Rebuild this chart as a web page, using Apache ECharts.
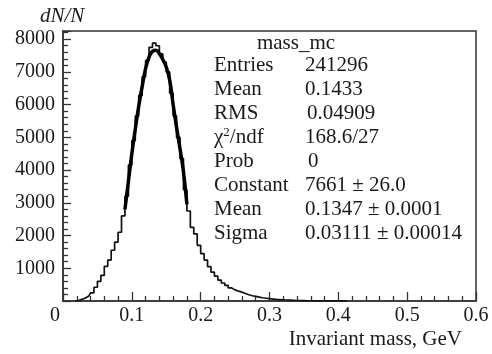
<!DOCTYPE html>
<html>
<head>
<meta charset="utf-8">
<script src="https://cdn.jsdelivr.net/npm/echarts@6/dist/echarts.min.js"></script>
<style>
  html, body { margin: 0; padding: 0; background: #fff; }
  #chart { width: 492px; height: 354px; }
</style>
</head>
<body>
<div id="chart"></div>
<script>
  // histogram mass_mc : bins of 0.005 GeV, first bin starts at 0.020
  var binStart = 0.02
  var binWidth = 0.005
  var counts = [
    15, 50, 90, 150, 250, 420, 600, 780, 1060, 1250,
    1550, 1800, 2100, 2600, 3200, 4150, 4900, 5650, 6280, 6850,
    7350, 7750, 7880, 7800, 7550, 7300, 7000, 6350, 5650, 5000,
    4350, 3400, 2750, 2250, 2050, 1700, 1450, 1250, 1050, 880,
    760, 640, 550, 480, 400, 340, 300, 270, 230, 190,
    160, 140, 120, 100, 85, 70, 60, 50, 45, 38,
    30, 25, 20, 15, 12, 10, 8, 7, 6, 5,
    4, 3, 3, 2, 2, 1, 1, 1
  ]
  // gaus fit curve
  var fitX = [0.090, 0.095, 0.100, 0.105, 0.110, 0.115, 0.120, 0.125, 0.130, 0.135,
              0.140, 0.145, 0.150, 0.155, 0.160, 0.165, 0.170, 0.175, 0.180]
  var fitY = [2800, 3650, 4500, 5250, 5950, 6550, 7100, 7450, 7630, 7660,
              7560, 7380, 7150, 6750, 6000, 5300, 4650, 3950, 2950]

  var statTitle = 'mass_mc'
  var statNames = ['Entries', 'Mean', 'RMS', 'χ{sup|2}/ndf', 'Prob', 'Constant', 'Mean', 'Sigma']
  var statValues = ['241296', '0.1433', '0.04909', '168.6/27', '0', '7661 ± 26.0', '0.1347 ± 0.0001', '0.03111 ± 0.00014']

  var font = '"Liberation Serif", "DejaVu Serif", serif'
  var ink = '#1a1a1a'

  var chart = echarts.init(document.getElementById('chart'))

  var histData = [[binStart - binWidth / 2, 0]]
  counts.forEach(function (c, i) {
    histData.push([binStart + (i + 0.5) * binWidth, c])
  })
  histData.push([binStart + (counts.length + 0.5) * binWidth, 0])

  var fitData = fitX.map(function (x, i) { return [x, fitY[i]] })

  var graphics = [
    {type: 'text', left: 40, top: 6, style: {text: 'dN/N', font: 'italic 21px ' + font, fill: ink}},
    {type: 'text', right: 30, top: 329, style: {text: 'Invariant mass, GeV', font: '21px ' + font, fill: ink}},
    {type: 'text', x: 296, y: 43, style: {text: statTitle, font: '21px ' + font, fill: ink, align: 'center', verticalAlign: 'middle'}}
  ]
  var valueX = [305, 305, 307, 305, 308, 305, 305, 305]
  statNames.forEach(function (name, i) {
    var y = 65 + i * 24
    graphics.push({type: 'text', x: 214, y: y, style: {
      text: name, font: '21px ' + font, fill: ink, verticalAlign: 'middle',
      rich: {sup: {fontSize: 13, fontFamily: font, padding: [0, 0, 9, 0], fill: ink}}
    }})
    graphics.push({type: 'text', x: valueX[i], y: y, style: {
      text: statValues[i], font: '21px ' + font, fill: ink, verticalAlign: 'middle'
    }})
  })

  var option = {
    animation: false,
    backgroundColor: '#fff',
    grid: {left: 63, right: 16, top: 31, bottom: 53, show: true, borderColor: '#333', borderWidth: 1.5},
    xAxis: {
      type: 'value', min: 0, max: 0.6, interval: 0.1,
      axisLine: {lineStyle: {color: '#333', width: 1.5}},
      axisTick: {inside: true, length: 9, lineStyle: {color: '#333', width: 1.3}},
      minorTick: {show: true, splitNumber: 5, length: 5, lineStyle: {color: '#333', width: 1.3}},
      splitLine: {show: false},
      axisLabel: {
        margin: 5, fontSize: 20, fontFamily: font, color: ink,
        formatter: function (v) { return v === 0 ? '{z|0}' : String(Math.round(v * 10) / 10) },
        rich: {z: {fontSize: 20, fontFamily: font, color: ink, padding: [0, 16, 0, 0]}}
      }
    },
    yAxis: {
      type: 'value', min: 0, max: 8250, interval: 1000,
      axisLine: {show: true, lineStyle: {color: '#333', width: 1.5}},
      axisTick: {show: true, inside: true, length: 8, lineStyle: {color: '#333', width: 1.3}},
      minorTick: {show: true, splitNumber: 5, length: 5, lineStyle: {color: '#333', width: 1.3}},
      splitLine: {show: false},
      axisLabel: {
        margin: 8, fontSize: 20, fontFamily: font, color: ink,
        formatter: function (v) { return (v === 0 || v % 1000 !== 0) ? '' : String(v) }
      }
    },
    series: [
      {
        name: 'mass_mc', type: 'line', step: 'middle', data: histData,
        showSymbol: false, lineStyle: {color: '#111', width: 1.7}
      },
      {
        name: 'gaus', type: 'line', smooth: true, data: fitData,
        showSymbol: false, lineStyle: {color: '#000', width: 3.5}
      }
    ],
    graphic: graphics
  }
  chart.setOption(option)
</script>
</body>
</html>
